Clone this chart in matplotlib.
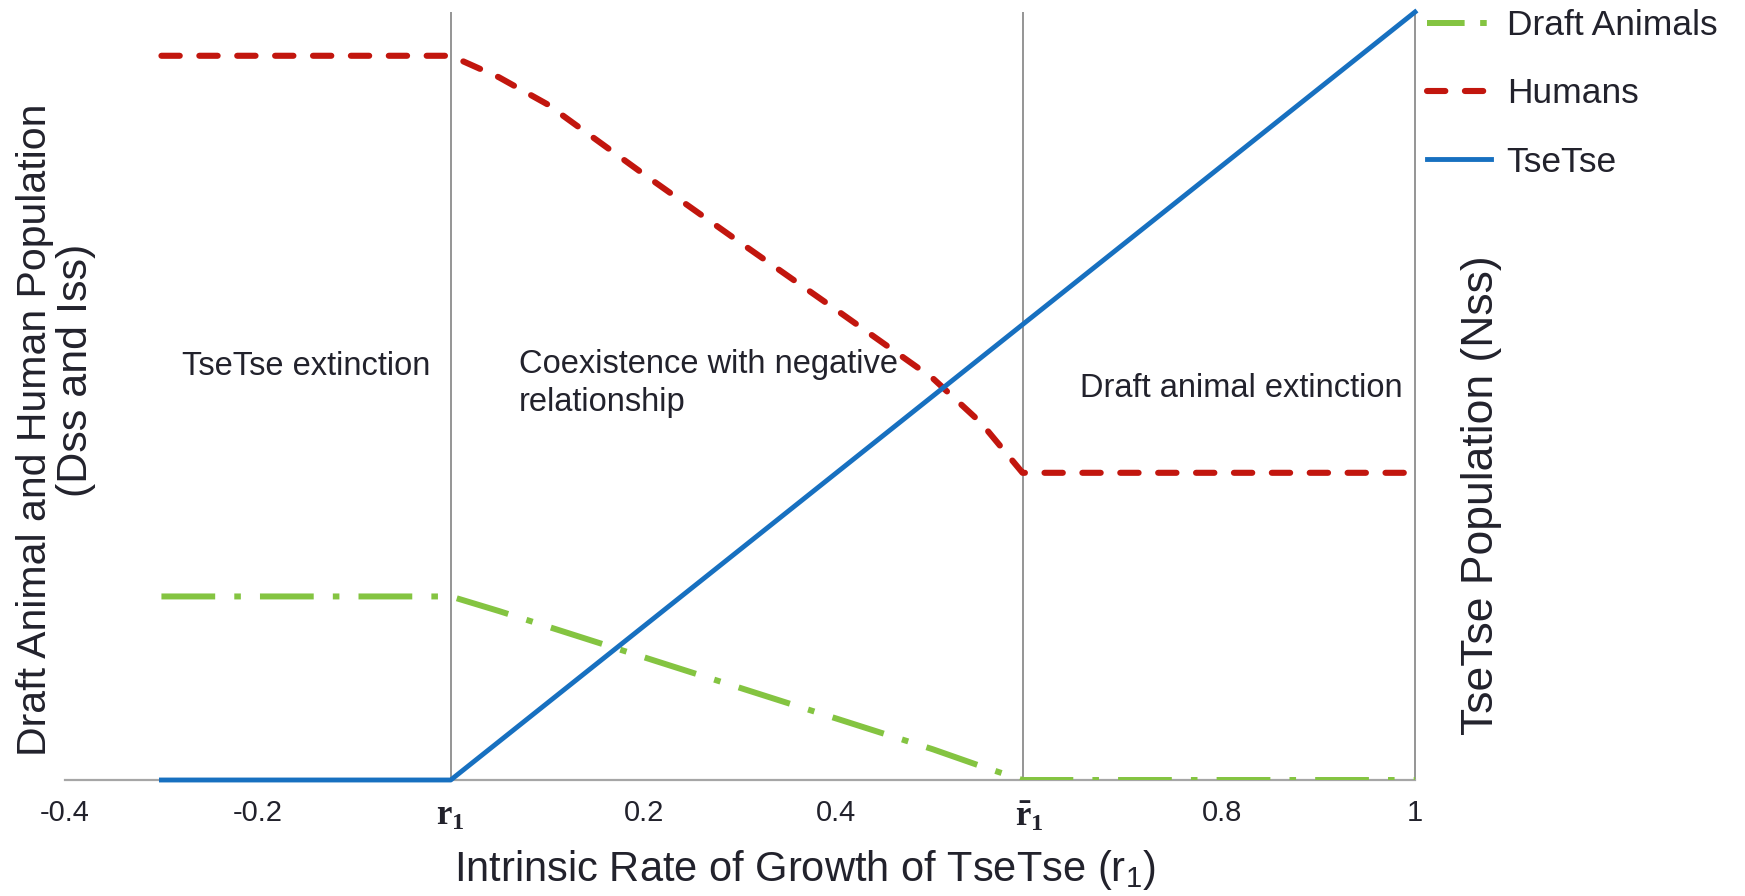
import matplotlib
matplotlib.use("Agg")
import matplotlib.pyplot as plt
from matplotlib.lines import Line2D

plt.rcParams['font.family'] = ['Liberation Sans', 'DejaVu Sans']
plt.rcParams['mathtext.fontset'] = 'custom'
plt.rcParams['mathtext.rm'] = 'Liberation Sans'
plt.rcParams['mathtext.it'] = 'Liberation Sans'
plt.rcParams['mathtext.bf'] = 'Liberation Serif:bold'

# intrinsic growth rate of tsetse (r1)
r1 = [-0.3, -0.2, -0.1, 0.0, 0.05, 0.1, 0.2, 0.3, 0.4, 0.5, 0.55, 0.593, 0.7, 0.8, 0.9, 1.0]
# steady states (relative scale)
draft_animals = [0.239, 0.239, 0.239, 0.239, 0.220, 0.200, 0.160, 0.120, 0.080, 0.040, 0.018, 0.0, 0.0, 0.0, 0.0, 0.0]
humans = [0.943, 0.943, 0.943, 0.943, 0.915, 0.880, 0.789, 0.700, 0.612, 0.523, 0.465, 0.400, 0.400, 0.400, 0.400, 0.400]
tsetse = [0.0, 0.0, 0.0, 0.0, 0.05, 0.1, 0.2, 0.3, 0.4, 0.5, 0.55, 0.593, 0.7, 0.8, 0.9, 1.0]

r1_low = 0.0     # r1 (lower threshold)
r1_high = 0.593  # r1 bar (upper threshold)

tick_pos = [-0.4, -0.2, 0.0, 0.2, 0.4, 0.6, 0.8, 1.0]
tick_labels = ['-0.4', '-0.2', r'$\mathbf{r_1}$', '0.2', '0.4', r'$\mathbf{\bar{r}_1}$', '0.8', '1']

GREEN = '#84c441'
RED = '#c2160e'
BLUE = '#1770c0'
GREY = '#8c8c8c'
TXT = '#22222c'


def make_plot():
    fig = plt.figure(figsize=(17.45, 8.96), dpi=100)
    ax = fig.add_axes([65 / 1745, 116 / 896, 1350 / 1745, 768 / 896])

    ax.plot(r1, draft_animals, color=GREEN, lw=4.3, dashes=(9, 3.2, 1.1, 3.2), zorder=3)
    ln_h, = ax.plot(r1, humans, color=RED, lw=4.4, dashes=(3.0, 3.2), dash_capstyle='round',
                    label='Humans', zorder=3)
    ln_t, = ax.plot(r1, tsetse, color=BLUE, lw=3.5, label='TseTse', zorder=4, clip_on=False)

    ax.axvline(r1_low, color=GREY, lw=1.3, zorder=1)
    ax.axvline(r1_high, color=GREY, lw=1.3, zorder=1)

    ax.set_xlim(-0.4, 1.0)
    ax.set_ylim(0, 1.0)
    ax.set_yticks([])
    ax.set_xticks(tick_pos)
    ax.set_xticklabels(tick_labels)
    ax.tick_params(axis='x', length=0, pad=14, labelsize=21, labelcolor=TXT)
    for lbl in ax.get_xticklabels():
        if '$' in lbl.get_text():
            lbl.set_fontsize(25)

    for s in ['left', 'top']:
        ax.spines[s].set_visible(False)
    ax.spines['bottom'].set_color('#a6a6a6')
    ax.spines['bottom'].set_linewidth(1.6)
    ax.spines['right'].set_color(GREY)
    ax.spines['right'].set_linewidth(1.3)

    # region annotations
    ax.text(-0.150, 0.538, 'TseTse extinction', fontsize=23.5, color=TXT, ha='center', va='center')
    ax.text(0.071, 0.516, 'Coexistence with negative\nrelationship', fontsize=23.5, color=TXT,
            ha='left', va='center', linespacing=1.3)
    ax.text(0.6526, 0.51, 'Draft animal extinction', fontsize=23.5, color=TXT, ha='left', va='center')

    # axis titles
    fig.text(805 / 1745, 1 - 870 / 896, 'Intrinsic Rate of Growth of TseTse (r$_1$)',
             fontsize=30, color=TXT, ha='center', va='center')
    fig.text(35 / 1745, 1 - 430 / 896, 'Draft Animal and Human Population',
             fontsize=29.5, color=TXT, rotation=90, ha='center', va='center')
    fig.text(76 / 1745, 1 - 370 / 896, '(Dss and Iss)',
             fontsize=31, color=TXT, rotation=90, ha='center', va='center')
    fig.text(1481 / 1745, 1 - 495 / 896, 'TseTse Population (Nss)',
             fontsize=32, color=TXT, rotation=90, ha='center', va='center')

    # legend proxy for the dash-dot so the dot shows in the short handle
    leg_d = Line2D([], [], color=GREEN, lw=4.3, dashes=(6.3, 2.6, 1.1, 2.6), label='Draft Animals')
    fig.legend(handles=[leg_d, ln_h, ln_t], loc='upper left',
               bbox_to_anchor=(1427 / 1745, 1 - 9 / 896), frameon=False,
               fontsize=25.5, labelcolor=TXT, handlelength=1.8, handletextpad=0.45,
               labelspacing=1.0, borderpad=0, borderaxespad=0)

    fig.savefig('out.png', dpi=100, facecolor='white')


if __name__ == "__main__":
    make_plot()
